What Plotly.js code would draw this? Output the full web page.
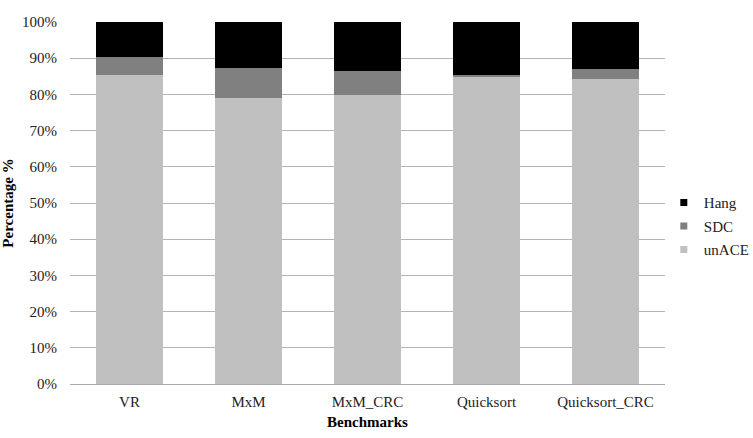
<!DOCTYPE html>
<html>
<head>
<meta charset="utf-8">
<script src="https://cdn.plot.ly/plotly-3.0.1.min.js"></script>
<style>html,body{margin:0;padding:0;background:#fff;}#chart{width:753px;height:438px;}</style>
</head>
<body>
<div id="chart"></div>
<script>
const categories = ["VR", "MxM", "MxM_CRC", "Quicksort", "Quicksort_CRC"];
const unACE = [85.4, 79.1, 79.7, 84.8, 84.3];
const SDC = [4.9, 8.2, 6.9, 0.6, 2.6];
const Hang = [9.7, 12.7, 13.4, 14.6, 13.1];
const yTicks = [0, 10, 20, 30, 40, 50, 60, 70, 80, 90, 100];

const fam = "Liberation Serif, Times New Roman, serif";
const series = [
  {name: "unACE", y: unACE, color: "#c0c0c0"},
  {name: "SDC", y: SDC, color: "#808080"},
  {name: "Hang", y: Hang, color: "#000000"}
];

const traces = series.map(s => ({
  type: "bar", x: categories, y: s.y, name: s.name, showlegend: false,
  marker: {color: s.color, line: {width: 0}}, hoverinfo: "skip"
}));
// legend entries (small square keys), Hang listed first
series.slice().reverse().forEach(s => traces.push({
  type: "scatter", mode: "markers", x: [categories[0]], y: [null], name: s.name,
  legendgroup: s.name, marker: {symbol: "square", size: 7, color: s.color}, hoverinfo: "skip"
}));

const layout = {
  width: 753, height: 438,
  margin: {l: 70, r: 88, t: 22, b: 54, autoexpand: false},
  barmode: "stack",
  bargap: 0.434,
  paper_bgcolor: "#fff", plot_bgcolor: "#fff",
  font: {family: fam, size: 15, color: "#222"},
  showlegend: true,
  legend: {traceorder: "grouped", tracegroupgap: 1, x: 0.998, xanchor: "left", y: 0.436, yanchor: "middle",
           font: {family: fam, size: 15, color: "#222"}, itemwidth: 30, bgcolor: "rgba(0,0,0,0)"},
  xaxis: {
    type: "category", showgrid: false, showline: true, linecolor: "#a8a8a8", linewidth: 1,
    ticks: "", ticklabelstandoff: 4, tickfont: {family: fam, size: 15, color: "#222"},
    title: {text: "<b>Benchmarks</b>", font: {family: fam, size: 15, color: "#000"}, standoff: 7}
  },
  yaxis: {
    range: [0, 100], tickvals: yTicks, ticktext: yTicks.map(v => v + "%"),
    showgrid: true, gridcolor: "#b4b4b4", gridwidth: 1, zeroline: false, showline: false,
    ticks: "", ticklabelstandoff: 12, tickfont: {family: fam, size: 15, color: "#222"},
    title: {text: "<b>Percentage %</b>", font: {family: fam, size: 15, color: "#000"}, standoff: 4}
  }
};

Plotly.newPlot("chart", traces, layout, {displayModeBar: false, staticPlot: true});
</script>
</body>
</html>
